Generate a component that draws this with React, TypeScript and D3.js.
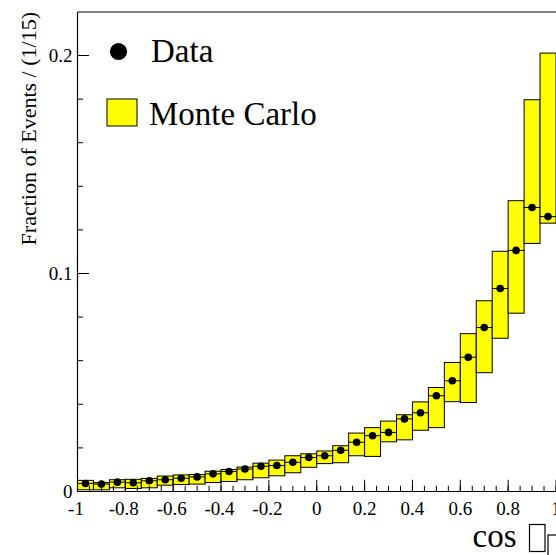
import React from "react";
import * as d3 from "d3";

// ---- data ----
const nBins = 30;
const xMin = -1;
const xMax = 1;

const dataValues = [
  0.0037, 0.0034, 0.0043, 0.0040, 0.0049, 0.0054, 0.0061, 0.0067, 0.0081, 0.0092,
  0.0103, 0.0116, 0.0119, 0.0134, 0.0156, 0.0164, 0.0189, 0.0226, 0.0256, 0.0271,
  0.0333, 0.0361, 0.0439, 0.0508, 0.0616, 0.0752, 0.0931, 0.1106, 0.1303, 0.1261,
];

const mcLow = [
  0.0008, 0.0008, 0.0017, 0.0014, 0.0017, 0.0029, 0.0032, 0.0034, 0.0041, 0.0046,
  0.0054, 0.0063, 0.0072, 0.0086, 0.0111, 0.0128, 0.0132, 0.0164, 0.0161, 0.0228,
  0.0237, 0.0281, 0.0293, 0.0412, 0.0408, 0.0545, 0.0703, 0.0818, 0.1138, 0.1231,
];

const mcHigh = [
  0.0051, 0.0041, 0.0054, 0.0056, 0.0060, 0.0071, 0.0076, 0.0078, 0.0093, 0.0101,
  0.0112, 0.0130, 0.0144, 0.0164, 0.0173, 0.0186, 0.0210, 0.0268, 0.0293, 0.0323,
  0.0352, 0.0411, 0.0477, 0.0592, 0.0724, 0.0875, 0.1102, 0.1334, 0.1797, 0.2011,
];

const xMajorTicks = [-1, -0.8, -0.6, -0.4, -0.2, 0, 0.2, 0.4, 0.6, 0.8, 1];
const xTickLabels = ["-1", "-0.8", "-0.6", "-0.4", "-0.2", "0", "0.2", "0.4", "0.6", "0.8", "1"];
const yMajorTicks = [0, 0.1, 0.2];
const yTickLabels = ["0", "0.1", "0.2"];

const yAxisTitle = "Fraction of Events / (1/15)";
const legendData = "Data";
const legendMC = "Monte Carlo";
const xAxisTitle = "cos";

const FONT = "'Liberation Serif', 'Times New Roman', serif";

export default function App() {
  const W = 556;
  const H = 555;
  const left = 77.5;
  const right = 556;
  const top = 12;
  const bottom = 491.5;

  const x = d3.scaleLinear().domain([xMin, xMax]).range([left, right]);
  const y = d3.scaleLinear().domain([0, 0.2]).range([bottom, 55.5]);

  const binW = (xMax - xMin) / nBins;
  const bins = d3.range(nBins).map((i) => ({
    x0: xMin + i * binW,
    x1: xMin + (i + 1) * binW,
    xc: xMin + (i + 0.5) * binW,
    v: dataValues[i],
    lo: mcLow[i],
    hi: mcHigh[i],
  }));

  const xMinor = d3.range(0, 41).map((i) => xMin + i * 0.05);
  const yMinor = d3.range(0, 11).map((i) => i * 0.02);

  return (
    <div style={{ position: "fixed", left: 0, top: 0 }}>
      <svg width={W} height={H} style={{ display: "block", background: "#fff" }}>
        {/* MC boxes */}
        {bins.map((b, i) => (
          <rect
            key={"mc" + i}
            x={x(b.x0)}
            y={y(b.hi)}
            width={x(b.x1) - x(b.x0)}
            height={y(b.lo) - y(b.hi)}
            fill="#ffff00"
            stroke="#000"
            strokeWidth={1}
          />
        ))}
        {/* data x-error bars */}
        {bins.map((b, i) => (
          <line
            key={"ex" + i}
            x1={x(b.x0)}
            x2={x(b.x1)}
            y1={y(b.v)}
            y2={y(b.v)}
            stroke="#000"
            strokeWidth={1}
          />
        ))}
        {/* data points */}
        {bins.map((b, i) => (
          <circle key={"pt" + i} cx={x(b.xc)} cy={y(b.v)} r={3.8} fill="#000" />
        ))}

        {/* frame / axes */}
        <line x1={left} x2={right} y1={top} y2={top} stroke="#000" strokeWidth={1} />
        <line x1={left} x2={left} y1={top} y2={bottom} stroke="#000" strokeWidth={1.2} />
        <line x1={left} x2={right} y1={bottom} y2={bottom} stroke="#000" strokeWidth={1.2} />

        {/* y ticks */}
        {yMinor.map((t, i) => (
          <line key={"ym" + i} x1={left} x2={left + 5.5} y1={y(t)} y2={y(t)} stroke="#000" strokeWidth={1} />
        ))}
        {yMajorTicks.map((t, i) => (
          <line key={"yM" + i} x1={left} x2={left + 11.5} y1={y(t)} y2={y(t)} stroke="#000" strokeWidth={1} />
        ))}
        {yMajorTicks.map((t, i) => (
          <text
            key={"yl" + i}
            x={72.5}
            y={y(t) + 6.5}
            textAnchor="end"
            fontFamily={FONT}
            fontSize={19}
            fill="#000"
          >
            {yTickLabels[i]}
          </text>
        ))}

        {/* x ticks */}
        {xMinor.map((t, i) => (
          <line key={"xm" + i} x1={x(t)} x2={x(t)} y1={bottom} y2={bottom - 5.7} stroke="#000" strokeWidth={1} />
        ))}
        {xMajorTicks.map((t, i) => (
          <line key={"xM" + i} x1={x(t)} x2={x(t)} y1={bottom} y2={bottom - 11.7} stroke="#000" strokeWidth={1} />
        ))}
        {xMajorTicks.map((t, i) => (
          <text
            key={"xl" + i}
            x={x(t) - (xTickLabels[i].startsWith("-") ? 1.5 : 0)}
            y={515}
            textAnchor="middle"
            fontFamily={FONT}
            fontSize={19}
            fill="#000"
          >
            {xTickLabels[i]}
          </text>
        ))}

        {/* y axis title */}
        <text
          transform="translate(36,12) rotate(-90)"
          textAnchor="end"
          fontFamily={FONT}
          fontSize={22}
          fill="#000"
        >
          {yAxisTitle}
        </text>

        {/* x axis title: "cos" followed by missing-glyph boxes */}
        <text x={472.5} y={547} fontFamily={FONT} fontSize={33} fill="#000">
          {xAxisTitle}
        </text>
        <rect x={529.5} y={524.5} width={15.5} height={27} fill="none" stroke="#000" strokeWidth={1.2} />
        <rect x={548} y={535} width={15} height={27} fill="none" stroke="#000" strokeWidth={1.2} />

        {/* legend */}
        <circle cx={118.5} cy={51.5} r={8.6} fill="#000" />
        <text x={151} y={62} fontFamily={FONT} fontSize={33} fill="#000">
          {legendData}
        </text>
        <rect x={107} y={99} width={30} height={27} fill="#ffff00" stroke="#000" strokeWidth={1} />
        <text x={149} y={124.5} fontFamily={FONT} fontSize={33} fill="#000">
          {legendMC}
        </text>
      </svg>
    </div>
  );
}
